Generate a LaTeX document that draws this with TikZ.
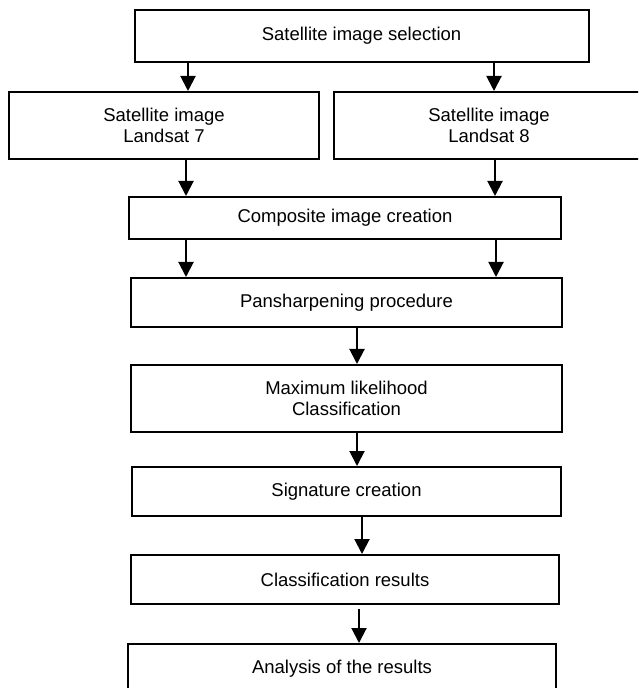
\documentclass[tikz,border=0pt]{standalone}
\usepackage{fontspec}
\setmainfont{Liberation Sans}
\usetikzlibrary{arrows.meta}

\begin{document}
\begin{tikzpicture}[x=0.5pt, y=-0.5pt, line width=1pt, font=\fontsize{9.25}{10.5}\selectfont,
    box/.style={draw, align=center, inner sep=0pt},
    >={Triangle[width=7.5pt, length=7.5pt]}]
    \clip (0,0) rectangle (638,688);

    \node[box, minimum width=227pt,   minimum height=26pt]    (sel)  at (361.5, 36.0)   {Satellite image selection};
    \node[box, minimum width=155pt,   minimum height=33.5pt]  (ls7)  at (164.0, 125.5)  {Satellite image \\ Landsat 7};
    \node[box, minimum width=155pt,   minimum height=33.5pt]  (ls8)  at (489.0, 125.5)  {Satellite image \\ Landsat 8};

    \node[box, minimum width=216pt,   minimum height=21pt]    (comp) at (345.0, 218.0)  {Composite image creation};
    \node[box, minimum width=215.5pt, minimum height=24.5pt]  (pan)  at (346.5, 302.5)  {Pansharpening procedure};
    \node[box, minimum width=215.5pt, minimum height=33.5pt]  (mlc)  at (346.5, 398.5)  {Maximum likelihood \\ Classification};
    \node[box, minimum width=214.5pt, minimum height=24.5pt]  (sig)  at (346.5, 491.5)  {Signature creation};
    \node[box, minimum width=214pt,   minimum height=24.5pt]  (res)  at (345.0, 579.5)  {Classification results};
    \node[box, minimum width=214pt,   minimum height=24.5pt]  (ana)  at (342.0, 668.5)  {Analysis of the results};

    \draw[->] (sel.south -| 188,0) -- (ls7.north -| 188,0);
    \draw[->] (sel.south -| 494,0) -- (ls8.north -| 494,0);

    \draw[->] (ls7.south -| 186,0) -- (comp.north -| 186,0);
    \draw[->] (ls8.south -| 495,0) -- (comp.north -| 495,0);

    \draw[->] (comp.south -| 186,0) -- (pan.north -| 186,0);
    \draw[->] (comp.south -| 496,0) -- (pan.north -| 496,0);

    \draw[->] (pan.south -| 357,0) -- (mlc.north -| 357,0);
    \draw[->] (mlc.south -| 357,0) -- (sig.north -| 357,0);
    \draw[->] (sig.south -| 362,0) -- (res.north -| 362,0);
    \draw[->] ([yshift=-2pt]res.south -| 359,0) -- (ana.north -| 359,0);
\end{tikzpicture}
\end{document}
